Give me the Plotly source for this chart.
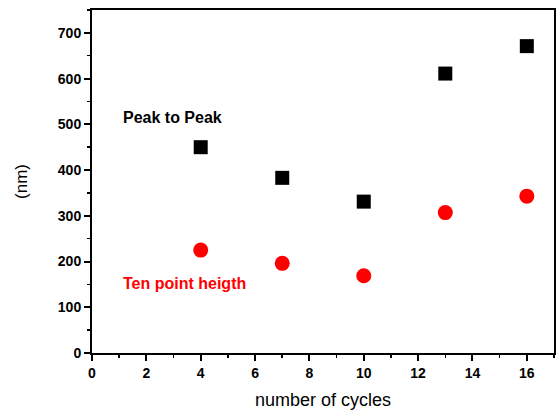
import plotly.graph_objects as go

cycles = [4, 7, 10, 13, 16]
peak_to_peak = [450, 383, 331, 611, 671]
ten_point = [225, 196, 169, 307, 343]
x_ticks = [0, 2, 4, 6, 8, 10, 12, 14, 16]
y_ticks = [0, 100, 200, 300, 400, 500, 600, 700]

FONT = "Liberation Sans, Arial, sans-serif"

fig = go.Figure()
fig.add_trace(go.Scatter(x=cycles, y=peak_to_peak, mode="markers",
                         marker=dict(symbol="square", size=14, color="black", line=dict(width=0)),
                         name="Peak to Peak"))
fig.add_trace(go.Scatter(x=cycles, y=ten_point, mode="markers",
                         marker=dict(symbol="circle", size=15, color="#ff0000", line=dict(width=0)),
                         name="Ten point heigth"))

fig.add_annotation(x=1.07, y=516, text="<b>Peak to Peak</b>", showarrow=False,
                   xanchor="left", yanchor="middle",
                   font=dict(family=FONT, size=16, color="black"))
fig.add_annotation(x=1.07, y=153, text="<b>Ten point heigth</b>", showarrow=False,
                   xanchor="left", yanchor="middle",
                   font=dict(family=FONT, size=16, color="#ff0000"))

axis_common = dict(showgrid=False, zeroline=False, showline=True, linecolor="black",
                   linewidth=2, mirror=True, ticks="outside", ticklen=6, tickwidth=2,
                   tickcolor="black", automargin=False,
                   tickfont=dict(family=FONT, size=14, color="black", weight="bold"))

fig.update_xaxes(range=[0, 17], tickvals=x_ticks,
                 minor=dict(ticks="outside", ticklen=3, tickwidth=1.5, dtick=1, tick0=0, tickcolor="black"),
                 title=dict(text="number of cycles", standoff=14,
                            font=dict(family=FONT, size=18, color="black")),
                 **axis_common)
fig.update_yaxes(range=[0, 750], tickvals=y_ticks,
                 minor=dict(ticks="outside", ticklen=3, tickwidth=1.5, dtick=50, tick0=0, tickcolor="black"),
                 title=dict(text="(nm)", standoff=26,
                            font=dict(family=FONT, size=17, color="black")),
                 **axis_common)

fig.update_layout(width=558, height=410, showlegend=False,
                  margin=dict(l=92, r=4, t=10, b=57),
                  plot_bgcolor="white", paper_bgcolor="white")
fig.write_html("out.html", config={"displayModeBar": False, "staticPlot": True})

with open("out.html", "r", encoding="utf-8") as f:
    html = f.read()
html = html.replace("<body>", '<body style="margin:0;padding:0;overflow:hidden">', 1)
with open("out.html", "w", encoding="utf-8") as f:
    f.write(html)
